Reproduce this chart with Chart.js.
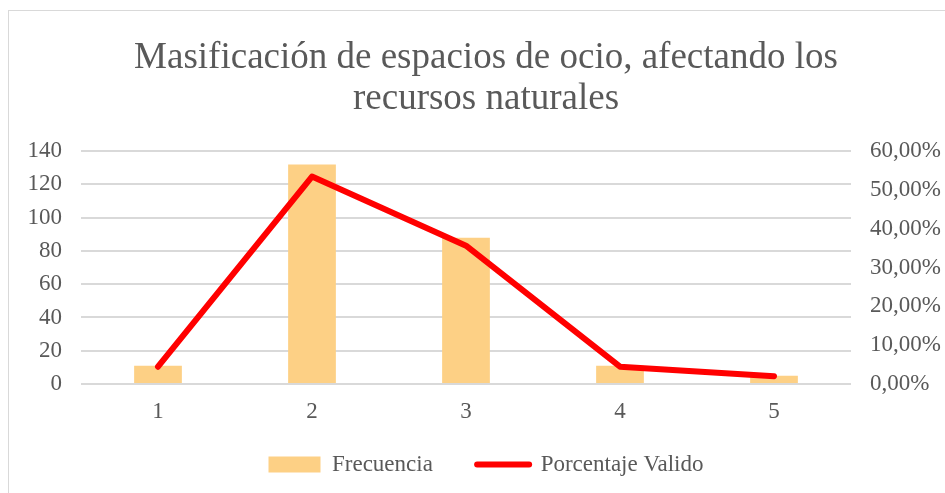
<!DOCTYPE html>
<html>
<head>
<meta charset="utf-8">
<script src="https://cdn.jsdelivr.net/npm/chart.js@4"></script>
<style>
  html, body { margin: 0; padding: 0; background: #fff; overflow: hidden; }
  #marco { position: absolute; left: 8px; top: 10px; width: 945px; height: 490px; border: 1px solid #d9d9d9; }
  #lienzo { position: absolute; left: 0; top: 0; }
</style>
</head>
<body>
<div id="marco"><canvas id="lienzo"></canvas></div>
<script>
// Datos
const categorias = ['1', '2', '3', '4', '5'];
const frecuencia = [11, 132, 88, 11, 5];
const porcentajeValido = [0.0445, 0.5344, 0.3563, 0.0445, 0.0202];
const ticksFrecuencia = [0, 20, 40, 60, 80, 100, 120, 140];
const ticksPorcentaje = [0, 0.1, 0.2, 0.3, 0.4, 0.5, 0.6];

const gris = '#595959';
const fuente = 'Liberation Serif, Times New Roman, serif';

const lienzo = document.getElementById('lienzo');
lienzo.width = 936;
lienzo.height = 482;
lienzo.style.width = '936px';
lienzo.style.height = '482px';

new Chart(lienzo, {
  data: {
    labels: categorias,
    datasets: [
      {
        type: 'line',
        label: 'Porcentaje Valido',
        data: porcentajeValido,
        yAxisID: 'y1',
        borderColor: '#ff0000',
        backgroundColor: '#ff0000',
        borderWidth: 6,
        borderCapStyle: 'round',
        borderJoinStyle: 'round',
        pointRadius: 0,
        tension: 0,
        order: 0
      },
      {
        type: 'bar',
        label: 'Frecuencia',
        data: frecuencia,
        yAxisID: 'y',
        backgroundColor: '#fdd085',
        barPercentage: 0.31,
        categoryPercentage: 1,
        order: 1
      }
    ]
  },
  options: {
    responsive: false,
    animation: false,
    layout: { padding: { left: 18, right: 0, top: 0, bottom: 7 } },
    plugins: {
      title: {
        display: true,
        text: ['Masificación de espacios de ocio, afectando los', 'recursos naturales'],
        color: gris,
        font: { family: fuente, size: 37, weight: 'normal', lineHeight: 1.11 },
        padding: { top: 27, bottom: 31 }
      },
      legend: {
        position: 'bottom',
        labels: {
          color: gris,
          font: { family: fuente, size: 23 },
          usePointStyle: true,
          pointStyleWidth: 52,
          boxHeight: 16,
          padding: 27,
          generateLabels: chart => {
            // barra primero, luego la línea; espacios finales para separar como en el original
            return [
              { text: 'Frecuencia   ', fillStyle: '#fdd085', strokeStyle: '#fdd085', lineWidth: 0, pointStyle: 'rect', datasetIndex: 1, fontColor: gris },
              { text: 'Porcentaje Valido', fillStyle: '#ff0000', strokeStyle: '#ff0000', lineWidth: 6, lineCap: 'round', pointStyle: 'line', datasetIndex: 0, fontColor: gris }
            ];
          }
        }
      },
      tooltip: { enabled: false }
    },
    scales: {
      x: {
        offset: true,
        grid: { display: false },
        border: { display: false },
        ticks: { color: gris, font: { family: fuente, size: 23 }, padding: 6, autoSkip: false },
        afterFit: s => { s.height = 42; }
      },
      y: {
        position: 'left',
        min: 0,
        max: 140,
        afterBuildTicks: s => { s.ticks = ticksFrecuencia.map(v => ({ value: v })); },
        grid: { color: '#d9d9d9', lineWidth: 2, drawTicks: false },
        border: { display: false },
        ticks: { color: gris, font: { family: fuente, size: 23 }, padding: 19 },
        afterFit: s => { s.width = 54; }
      },
      y1: {
        position: 'right',
        min: 0,
        max: 0.6,
        afterBuildTicks: s => { s.ticks = ticksPorcentaje.map(v => ({ value: v })); },
        grid: { display: false, drawTicks: false },
        border: { display: false },
        ticks: {
          color: gris,
          font: { family: fuente, size: 23 },
          padding: 19,
          callback: v => (v * 100).toFixed(2).replace('.', ',') + '%'
        },
        afterFit: s => { s.width = 94; }
      }
    }
  }
});
</script>
</body>
</html>
